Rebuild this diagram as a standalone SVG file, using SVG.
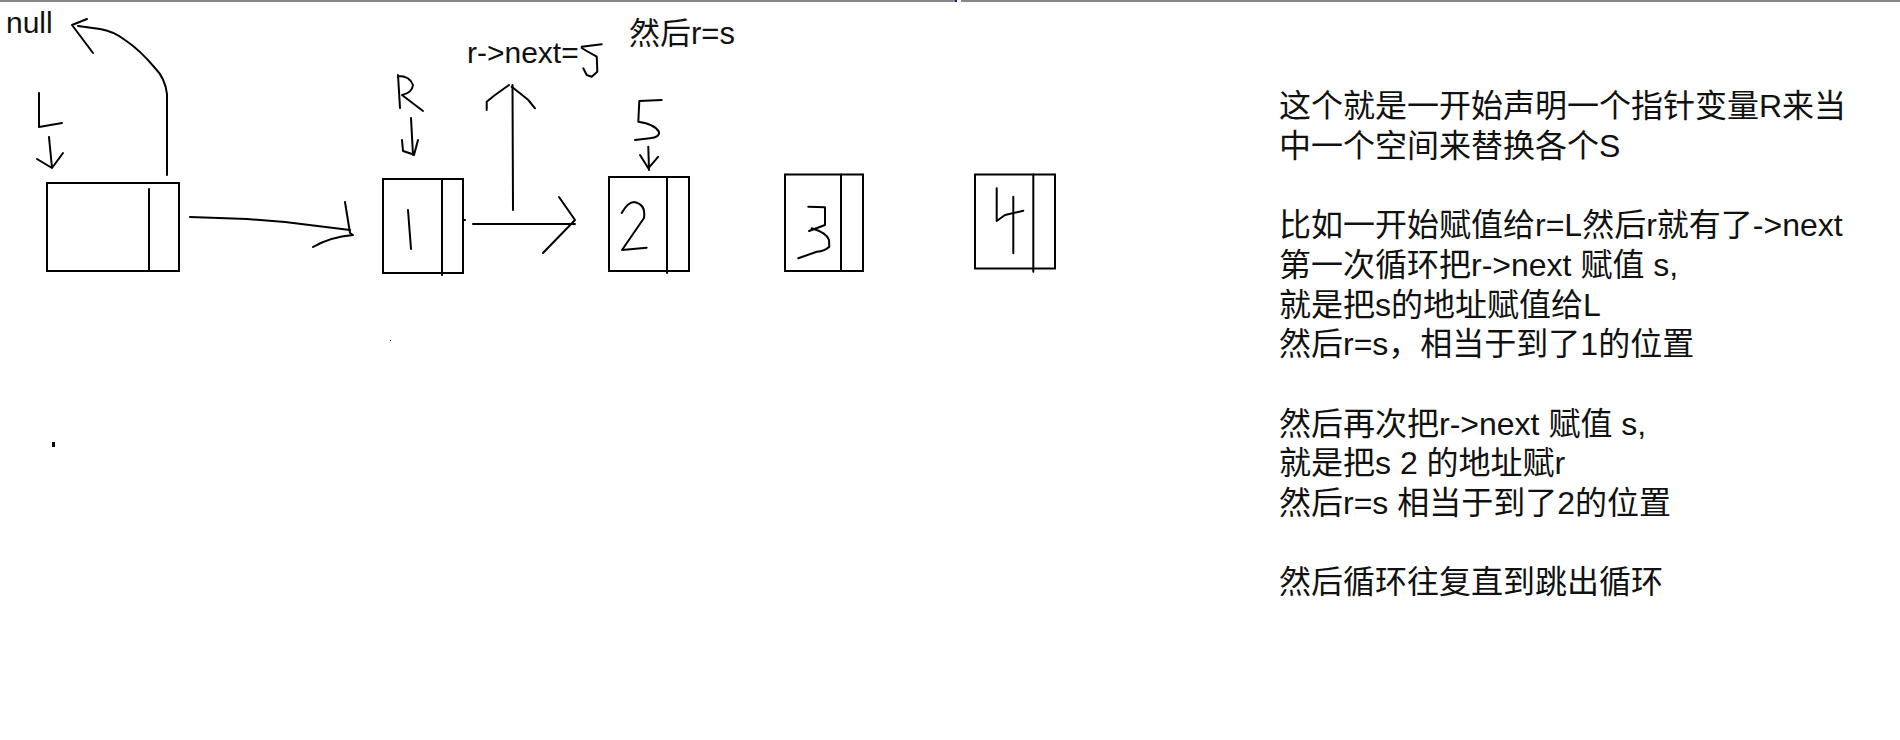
<svg xmlns="http://www.w3.org/2000/svg" width="1900" height="740" viewBox="0 0 1900 740">
<style>
.ink{fill:none;stroke:#000;stroke-width:2;stroke-linecap:round;stroke-linejoin:round}
.box{fill:#fff;stroke:#000;stroke-width:2}
.lbl{font-family:"Liberation Sans","Noto Sans CJK SC",sans-serif;font-size:30px;fill:#111}
.note{font-family:"Liberation Sans","Noto Sans CJK SC",sans-serif;font-size:32px;fill:#111}
</style>
<rect x="0" y="0" width="1900" height="740" fill="#fff"/>
<g id="topbar">
<rect x="0" y="0" width="955" height="2" fill="#888"/>
<rect x="955" y="0" width="2" height="2" fill="#1a1a6e"/>
<rect x="961" y="0" width="939" height="2" fill="#888"/>
</g>
<g id="node-L">
<rect class="box" x="47" y="183" width="132" height="88"/>
<path class="ink" d="M149,189 L149,271"/>
<path class="ink" d="M39,93 L39,127 L62,123"/>
<path class="ink" d="M49,137 L52,168 M37,159 L52,168 L63,153"/>
</g>
<g id="node-1">
<rect class="box" x="383" y="179" width="80" height="94"/>
<path class="ink" d="M442,179 L442,275"/>
<path class="ink" d="M408,210 L411,249"/>
<path class="ink" d="M398,75 L400,108 M398,76 Q410,76 413,85 Q412,93 402,95 L423,111"/>
<path class="ink" d="M411,118 L413,155 M402,140 L403,151 L412,154 M418,140 L414,155"/>
</g>
<g id="node-2">
<rect class="box" x="609" y="177" width="80" height="94"/>
<path class="ink" d="M667,177 L667,273"/>
<path class="ink" d="M621.7,213 Q628,202 634,202 Q646,204 644,218 L622,250 L646.7,247.7"/>
<path class="ink" d="M639.3,101 L661.7,100 M639.3,101 L638.3,121.7 Q655,124 659,132 Q660,137 650,138.3 L635,140"/>
<path class="ink" d="M648.3,146.7 L649,170 M640,155 L648.3,168.3 L658.3,156.7"/>
</g>
<g id="node-3">
<rect class="box" x="785" y="174.5" width="78" height="96.5"/>
<path class="ink" d="M841,174.5 L841,271"/>
<path class="ink" d="M808.3,206.7 L825,207.3 L825,225 L809,231"/>
<path class="ink" d="M811.7,228.3 Q827,233 829,240 L829.3,246.7 Q825,251 816.7,251.7 L798.3,258.3"/>
</g>
<g id="node-4">
<rect class="box" x="975" y="174.5" width="80" height="94"/>
<path class="ink" d="M1033.3,174.5 L1033.3,271.7"/>
<path class="ink" d="M996.7,188.3 L996.7,221 L1005,215 L1023.3,210.7"/>
<path class="ink" d="M1013.3,196.7 L1013.3,253.3"/>
</g>
<g id="connectors">
<path class="ink" d="M167,175 L167,94 Q165,78 155,68 Q140,50 125,40 Q113,31 100,29 L78,26"/>
<path class="ink" d="M87,19 L72,25 L93,53"/>
<path class="ink" d="M190,217 L247,219 L285,222 L350,230"/>
<path class="ink" d="M345,202 L350,233 L353,235 Q330,237 313,247"/>
<path class="ink" d="M513,210 L512.5,85"/>
<path class="ink" d="M486.7,110 L486.7,101.7 L495,95 L509,85 M511.7,86.7 L520,93.3 L528.3,100 L535,108.3"/>
<path class="ink" d="M473,224 L575,224"/>
<path class="ink" d="M559,197 L575,220 L543,253"/>
<path class="ink" d="M463,220 L465,220"/>
</g>
<g id="labels">
<text class="lbl" x="6" y="33">null</text>
<text class="lbl" x="467" y="63">r-&gt;next=</text>
<path class="ink" d="M581.7,46.7 L601.7,44.3 M581.7,48 L586.7,51 L596.7,56.7 L597,62 L597.3,71.7 L591.7,76.7 L586.7,75 L583.3,68.3"/>
<text class="lbl" x="629" y="44" style="font-size:31px">然后r=s</text>
</g>
<g id="dots">
<rect x="52" y="442" width="3" height="5" fill="#000"/>
<rect x="390" y="340" width="1" height="1" fill="#000"/>
</g>
<g id="notes">
<text class="note" x="1279" y="117">这个就是一开始声明一个指针变量R来当</text>
<text class="note" x="1279" y="156.7">中一个空间来替换各个S</text>
<text class="note" x="1279" y="236.1">比如一开始赋值给r=L然后r就有了-&gt;next</text>
<text class="note" x="1279" y="275.8">第一次循环把r-&gt;next 赋值 s,</text>
<text class="note" x="1279" y="315.5">就是把s的地址赋值给L</text>
<text class="note" x="1279" y="355.2">然后r=s，相当于到了1的位置</text>
<text class="note" x="1279" y="434.6">然后再次把r-&gt;next 赋值 s,</text>
<text class="note" x="1279" y="474.3">就是把s 2 的地址赋r</text>
<text class="note" x="1279" y="514">然后r=s 相当于到了2的位置</text>
<text class="note" x="1279" y="593.4">然后循环往复直到跳出循环</text>
</g>
</svg>
